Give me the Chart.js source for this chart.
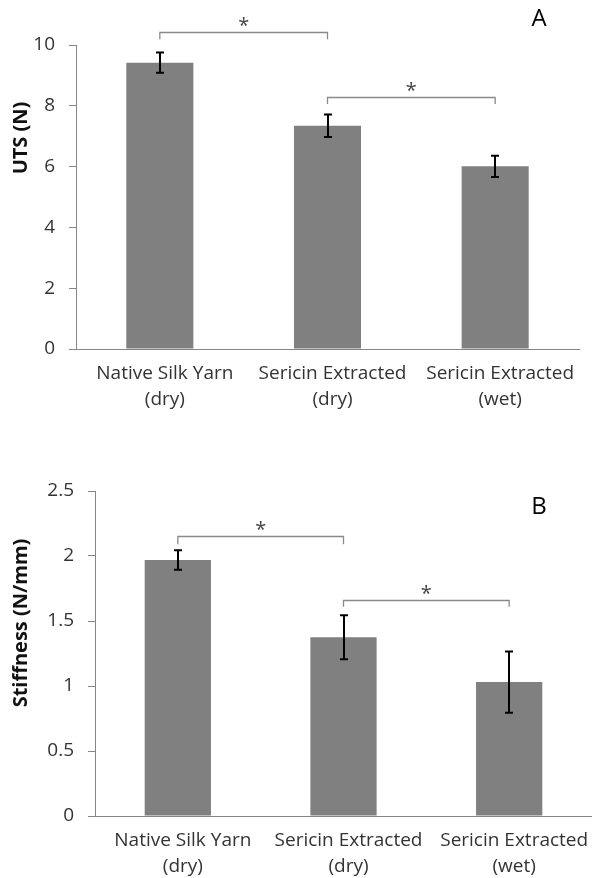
<!DOCTYPE html>
<html>
<head>
<meta charset="utf-8">
<script src="https://cdn.jsdelivr.net/npm/chart.js@4"></script>
<style>
  html, body { margin: 0; padding: 0; background: #fff; }
  canvas { position: absolute; left: 0; }
  #chartA { top: 0; }
  #chartB { top: 440px; }
</style>
</head>
<body>
<canvas id="chartA" width="592" height="420"></canvas>
<canvas id="chartB" width="592" height="438"></canvas>
<script>
// ---- data ----
const categories = [
    ['Native Silk Yarn', '(dry)'],
    ['Sericin Extracted', '(dry)'],
    ['Sericin Extracted', '(wet)']
];

const utsValues = [9.42, 7.34, 6.01];
const utsErrors = [0.33, 0.37, 0.35];
const utsTicks = [0, 2, 4, 6, 8, 10];
// [from bar, to bar, bracket level, leg end level]
const utsBrackets = [[0, 1, 10.44, 10.19], [1, 2, 8.29, 8.06]];

const stiffValues = [1.97, 1.375, 1.03];
const stiffErrors = [0.075, 0.17, 0.235];
const stiffTicks = [0, 0.5, 1, 1.5, 2, 2.5];
const stiffBrackets = [[0, 1, 2.155, 2.09], [1, 2, 1.66, 1.61]];

const FONT = '"Open Sans", "Noto Sans", sans-serif';
const AXIS_GREY = '#868686';

// error bars, significance brackets, panel letter, y title
const annotatePlugin = {
    id: 'annotate',
    afterDatasetsDraw(chart, args, opts) {
        const ctx = chart.ctx;
        const xs = chart.scales.x, ys = chart.scales.y;
        const vals = chart.data.datasets[0].data;

        ctx.save();
        ctx.strokeStyle = '#000';
        ctx.lineWidth = 2;
        opts.errors.forEach((e, i) => {
            const cx = Math.round(xs.getPixelForValue(i));
            const top = ys.getPixelForValue(vals[i] + e);
            const bot = ys.getPixelForValue(vals[i] - e);
            ctx.beginPath();
            ctx.moveTo(cx, top); ctx.lineTo(cx, bot);
            ctx.moveTo(cx - 4, top); ctx.lineTo(cx + 4, top);
            ctx.moveTo(cx - 4, bot); ctx.lineTo(cx + 4, bot);
            ctx.stroke();
        });

        ctx.strokeStyle = '#8a8a8a';
        ctx.lineWidth = 1.3;
        ctx.fillStyle = '#444';
        ctx.font = '20px ' + FONT;
        ctx.textAlign = 'center';
        ctx.textBaseline = 'middle';
        opts.brackets.forEach(b => {
            const x1 = xs.getPixelForValue(b[0]), x2 = xs.getPixelForValue(b[1]);
            const yl = Math.round(ys.getPixelForValue(b[2])) + 0.5;
            const ye = ys.getPixelForValue(b[3]);
            ctx.beginPath();
            ctx.moveTo(x1, ye); ctx.lineTo(x1, yl); ctx.lineTo(x2, yl); ctx.lineTo(x2, ye);
            ctx.stroke();
            ctx.fillText('*', (x1 + x2) / 2, yl - 6);
        });

        ctx.fillStyle = '#000';
        ctx.font = '24px ' + FONT;
        ctx.fillText(opts.letter, 539, opts.letterY);

        ctx.fillStyle = '#111';
        ctx.font = 'bold 20px ' + FONT;
        ctx.translate(21, opts.titleY);
        ctx.rotate(-Math.PI / 2);
        ctx.fillText(opts.title, 0, 0);
        ctx.restore();
    }
};

function makeChart(id, values, errors, tickVals, brackets, cfg) {
    return new Chart(document.getElementById(id), {
        type: 'bar',
        data: {
            labels: categories,
            datasets: [{
                data: values,
                backgroundColor: '#808080',
                barPercentage: 0.4,
                categoryPercentage: 1.0
            }]
        },
        options: {
            responsive: false,
            animation: false,
            layout: { padding: { top: cfg.top, right: cfg.right, left: 0, bottom: 0 } },
            plugins: {
                legend: { display: false },
                tooltip: { enabled: false },
                annotate: {
                    errors: errors, brackets: brackets,
                    letter: cfg.letter, letterY: cfg.letterY,
                    title: cfg.title, titleY: cfg.titleY
                }
            },
            scales: {
                x: {
                    grid: { display: false },
                    border: { display: true, color: AXIS_GREY, width: 1 },
                    ticks: {
                        color: '#333',
                        font: { family: FONT, size: 19, lineHeight: 26 / 19 },
                        padding: 4,
                        labelOffset: 5,
                        maxRotation: 0,
                        autoSkip: false
                    },
                    afterFit: s => { s.height = cfg.xHeight; }
                },
                y: {
                    min: tickVals[0],
                    max: tickVals[tickVals.length - 1],
                    afterBuildTicks: s => { s.ticks = tickVals.map(v => ({ value: v })); },
                    grid: { display: true, drawOnChartArea: false, drawTicks: true, tickLength: 7, color: AXIS_GREY },
                    border: { display: true, color: AXIS_GREY, width: 1 },
                    ticks: {
                        color: '#333',
                        font: { family: FONT, size: 19 },
                        padding: 14,
                        callback: v => String(v)
                    },
                    afterFit: s => { s.width = cfg.yWidth; }
                }
            }
        },
        plugins: [annotatePlugin]
    });
}

makeChart('chartA', utsValues, utsErrors, utsTicks, utsBrackets, {
    top: 45, right: 13, xHeight: 71, yWidth: 76,
    letter: 'A', letterY: 19, title: 'UTS (N)', titleY: 138
});

makeChart('chartB', stiffValues, stiffErrors, stiffTicks, stiffBrackets, {
    top: 51, right: 0, xHeight: 62, yWidth: 95,
    letter: 'B', letterY: 67, title: 'Stiffness (N/mm)', titleY: 183
});
</script>
</body>
</html>
